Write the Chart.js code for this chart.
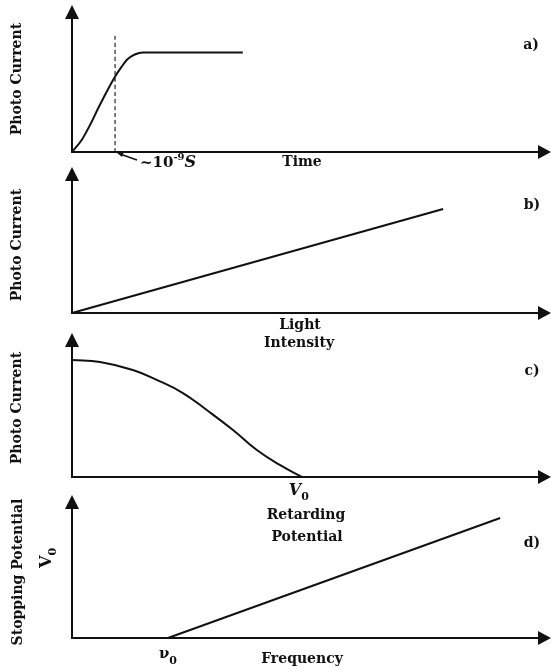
<!DOCTYPE html>
<html>
<head>
<meta charset="utf-8">
<script src="https://cdn.jsdelivr.net/npm/chart.js@4.4.1/dist/chart.umd.min.js"></script>
<style>
  html, body { margin: 0; padding: 0; background: #fff; }
  #wrap { position: relative; width: 551px; height: 672px; }
  #wrap canvas { position: absolute; left: 0; top: 0; }
</style>
</head>
<body>
<div id="wrap">
  <canvas id="chartA" width="551" height="672"></canvas>
  <canvas id="chartB" width="551" height="672"></canvas>
  <canvas id="chartC" width="551" height="672"></canvas>
  <canvas id="chartD" width="551" height="672"></canvas>
</div>
<script>
// a) photo current vs time (arbitrary units 0-100)
const timeX = [0, 2.07, 3.85, 5.62, 7.41, 9.19, 10.62, 11.69, 12.76, 14.17, 15.23, 36.5];
const timeCurrent = [0, 9.0, 20.1, 32.8, 45.0, 56.2, 63.7, 68.7, 71.6, 73.7, 74.3, 74.3];
const riseTime = 9.2;
const riseMarkTop = 86.6;

// b) photo current vs light intensity
const intensityX = [0, 79.3];
const intensityCurrent = [0, 78.2];

// c) photo current vs retarding potential
const retardX = [0, 6.0, 13.0, 18.2, 23.7, 28.8, 34.4, 39.5, 44.4, 49.1];
const retardCurrent = [89.3, 87.8, 81.7, 74.0, 64.1, 51.1, 35.9, 20.6, 9.2, 0];

// d) stopping potential vs frequency
const freqX = [20.5, 91.5];
const stopV = [0, 92.3];

const INK = "#111";
const SERIF = '"DejaVu Serif", "Liberation Serif", serif';

function pts(xs, ys) {
  return xs.map((x, i) => ({ x: x, y: ys[i] }));
}

// draws a label made of several runs (for sub/superscripts)
function drawRuns(ctx, lab) {
  ctx.save();
  ctx.fillStyle = INK;
  ctx.textBaseline = "middle";
  let w = 0;
  lab.runs.forEach(r => { ctx.font = r.font; w += ctx.measureText(r.t).width; });
  ctx.translate(lab.x, lab.y);
  if (lab.rotate) ctx.rotate(-Math.PI / 2);
  let x = lab.align === "left" ? 0 : -w / 2;
  lab.runs.forEach(r => {
    ctx.font = r.font;
    ctx.fillText(r.t, x, r.dy || 0);
    x += ctx.measureText(r.t).width;
  });
  ctx.restore();
}

function txt(t, x, y, extra) {
  return Object.assign({ x: x, y: y, runs: [{ t: t, font: "bold 14px " + SERIF }] }, extra || {});
}

function makeSketch(texts, extra) {
  return {
    id: "sketch",
    afterDraw(chart) {
      const ctx = chart.ctx;
      const a = chart.chartArea;
      ctx.save();
      ctx.strokeStyle = INK;
      ctx.fillStyle = INK;
      ctx.lineWidth = 2;
      ctx.beginPath();
      ctx.moveTo(a.left, a.top);
      ctx.lineTo(a.left, a.bottom);
      ctx.lineTo(a.right, a.bottom);
      ctx.stroke();
      // arrow heads
      ctx.beginPath();
      ctx.moveTo(a.left, a.top - 13);
      ctx.lineTo(a.left - 7, a.top + 1);
      ctx.lineTo(a.left + 7, a.top + 1);
      ctx.closePath();
      ctx.fill();
      ctx.beginPath();
      ctx.moveTo(a.right + 11, a.bottom);
      ctx.lineTo(a.right - 2, a.bottom - 7);
      ctx.lineTo(a.right - 2, a.bottom + 7);
      ctx.closePath();
      ctx.fill();
      ctx.restore();
      texts(chart).forEach(l => drawRuns(ctx, l));
      if (extra) extra(chart, ctx);
    }
  };
}

function makeChart(id, top, bottom, datasets, texts, extra) {
  const ctx = document.getElementById(id).getContext("2d");
  return new Chart(ctx, {
    type: "line",
    data: { datasets: datasets },
    options: {
      responsive: false,
      animation: false,
      layout: { padding: { left: 72, right: 11, top: top, bottom: 672 - bottom } },
      plugins: { legend: { display: false }, tooltip: { enabled: false } },
      elements: { point: { radius: 0 } },
      scales: {
        x: { type: "linear", min: 0, max: 100, display: false },
        y: { min: 0, max: 100, display: false }
      }
    },
    plugins: [makeSketch(texts, extra)]
  });
}

function curve(data, extra) {
  return Object.assign({
    data: data, borderColor: INK, borderWidth: 2, clip: false,
    tension: 0.4, cubicInterpolationMode: "monotone", fill: false
  }, extra || {});
}

const big = "bold 15px " + SERIF;

makeChart("chartA", 18, 152, [
  curve(pts(timeX, timeCurrent)),
  curve([{ x: riseTime, y: 0 }, { x: riseTime, y: riseMarkTop }],
    { borderColor: "#444", borderWidth: 1.4, borderDash: [4, 3], tension: 0 })
], () => [
  txt("Photo Current", 17, 79, { rotate: true }),
  txt("Time", 302, 162),
  { x: 140, y: 163, align: "left", runs: [
    { t: "~10", font: big },
    { t: "-9", font: "bold 10px " + SERIF, dy: -6 },
    { t: "S", font: "italic bold 16px " + SERIF }
  ] },
  txt("a)", 531, 45)
], (chart, ctx) => {
  // pointer from the label to the dashed line
  const px = chart.scales.x.getPixelForValue(riseTime);
  ctx.save();
  ctx.strokeStyle = INK;
  ctx.fillStyle = INK;
  ctx.lineWidth = 1.5;
  ctx.beginPath();
  ctx.moveTo(137, 160);
  ctx.lineTo(px + 5, 154);
  ctx.stroke();
  ctx.beginPath();
  ctx.moveTo(px + 2, 153);
  ctx.lineTo(px + 9, 151);
  ctx.lineTo(px + 7, 157);
  ctx.closePath();
  ctx.fill();
  ctx.restore();
});

makeChart("chartB", 180, 313, [
  curve(pts(intensityX, intensityCurrent), { tension: 0 })
], () => [
  txt("Photo Current", 17, 245, { rotate: true }),
  txt("Light", 300, 325),
  txt("Intensity", 299, 343),
  txt("b)", 532, 205)
]);

makeChart("chartC", 346, 477, [
  curve(pts(retardX, retardCurrent), { cubicInterpolationMode: "default", tension: 0.45 })
], (chart) => {
  const vx = chart.scales.x.getPixelForValue(retardX[retardX.length - 1]);
  return [
    txt("Photo Current", 17, 408, { rotate: true }),
    { x: vx - 3, y: 491, runs: [
      { t: "V", font: "italic bold 16px " + SERIF },
      { t: "0", font: "bold 11px " + SERIF, dy: 6 }
    ] },
    txt("Retarding", 306, 515),
    txt("Potential", 307, 537),
    txt("c)", 532, 371)
  ];
});

makeChart("chartD", 508, 638, [
  curve(pts(freqX, stopV), { tension: 0 })
], (chart) => {
  const nx = chart.scales.x.getPixelForValue(freqX[0]);
  return [
    txt("Stopping Potential", 18, 572, { rotate: true }),
    { x: 47, y: 558, rotate: true, runs: [
      { t: "V", font: "bold 16px " + SERIF },
      { t: "0", font: "bold 11px " + SERIF, dy: 6 }
    ] },
    { x: nx, y: 656, runs: [
      { t: "\u03bd", font: "bold 15px " + SERIF, dy: -2 },
      { t: "0", font: "bold 11px " + SERIF, dy: 5 }
    ] },
    txt("Frequency", 302, 659),
    txt("d)", 532, 543)
  ];
});
</script>
</body>
</html>
